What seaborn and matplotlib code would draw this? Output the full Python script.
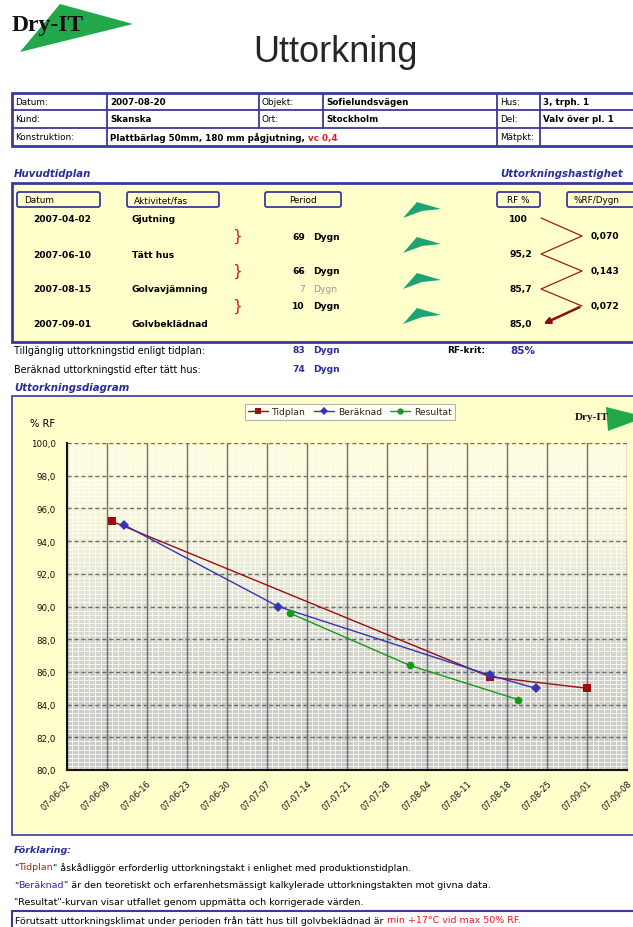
import pandas as pd
import matplotlib
matplotlib.use("Agg")
from matplotlib import pyplot as plt
import matplotlib.dates as mdates
from matplotlib.patches import Rectangle, Polygon, FancyBboxPatch
from matplotlib.lines import Line2D
from matplotlib.ticker import MultipleLocator, FuncFormatter
import numpy as np
import seaborn as sns

sns.set_style("white")
plt.rcParams["font.family"] = ["DejaVu Sans"]

# ---- chart data ----
tidplan_dates = ["2007-06-10", "2007-08-15", "2007-09-01"]
tidplan_rf = [95.2, 85.7, 85.0]
beraknad_dates = ["2007-06-12", "2007-07-09", "2007-08-15", "2007-08-23"]
beraknad_rf = [95.0, 90.0, 85.8, 85.0]
resultat_dates = ["2007-07-11", "2007-08-01", "2007-08-20"]
resultat_rf = [89.6, 86.4, 84.3]
x_ticks = ["2007-06-02", "2007-06-09", "2007-06-16", "2007-06-23", "2007-06-30",
           "2007-07-07", "2007-07-14", "2007-07-21", "2007-07-28", "2007-08-04",
           "2007-08-11", "2007-08-18", "2007-08-25", "2007-09-01", "2007-09-08"]
y_ticks = [80, 82, 84, 86, 88, 90, 92, 94, 96, 98, 100]

# ---- header table ----
info_rows = [
    ["Datum:", "2007-08-20", "Objekt:", "Sofielundsvägen", "Hus:", "3, trph. 1"],
    ["Kund:", "Skanska", "Ort:", "Stockholm", "Del:", "Valv över pl. 1"],
]
konstr_label = "Konstruktion:"
konstr_value = "Plattbärlag 50mm, 180 mm pågjutning,"
konstr_vc = " vc 0,4"

# ---- schedule ----
plan_dates = ["2007-04-02", "2007-06-10", "2007-08-15", "2007-09-01"]
plan_activity = ["Gjutning", "Tätt hus", "Golvavjämning", "Golvbeklädnad"]
plan_rf = ["100", "95,2", "85,7", "85,0"]
period_days = ["69", "66", "10"]
rate_values = ["0,070", "0,143", "0,072"]

W, H = 633, 928
BLUE = "#3a3a9e"
TXTBLUE = "#2b2b9c"
YEL = "#ffffcc"
DARKRED = "#8e0c0c"
REDTXT = "#f01818"
ARROWGREEN = "#1ea376"

fig = plt.figure(figsize=(W / 100, H / 100), dpi=100)
bg = fig.add_axes([0, 0, 1, 1])
bg.set_xlim(0, W)
bg.set_ylim(H, 0)
bg.axis("off")
renderer = fig.canvas.get_renderer()


def txt(x, y, s, size=6, color="black", weight="normal", ha="left", style="normal", **kw):
    return bg.text(x, y, s, fontsize=size, color=color, fontweight=weight, ha=ha,
                   va="center", fontstyle=style, **kw)


def parts(x, y, items, size=6, weight="normal"):
    for s, c in items:
        t = txt(x, y, s, size=size, color=c, weight=weight)
        x = t.get_window_extent(renderer).x1


def dry_logo(tri, tx, ty, size):
    bg.add_patch(Polygon(tri, closed=True, fc="#22a84a", ec="none"))
    bg.text(tx, ty, "Dry-IT", fontsize=size, fontweight="bold", family="Liberation Serif",
            color="#111111", va="center", ha="left")


# logo + title
dry_logo([(60, 5), (133, 25), (20, 53)], 12, 26, 17)
bg.text(335, 52, "Uttorkning", fontsize=26, family="Liberation Sans", ha="center", va="center")

# info table
cols = [12, 107, 259, 323, 497, 540, 660]
rows = [94, 111, 129, 147]
bg.add_patch(Rectangle((12, 94), 660, 53, fc="white", ec=BLUE, lw=2))
for r in rows[1:3]:
    bg.plot([12, 660], [r, r], color=BLUE, lw=1.3)
for c in [107, 497, 540]:
    bg.plot([c, c], [94, 147], color=BLUE, lw=1.3)
for c in [259, 323]:
    bg.plot([c, c], [94, 129], color=BLUE, lw=1.3)
for i, row in enumerate(info_rows):
    yc = (rows[i] + rows[i + 1]) / 2
    for j, s in enumerate(row):
        bold = j % 2 == 1
        txt(cols[j] + 3, yc, s, size=6.3 if bold else 6.4, weight="bold" if bold else "normal")
yc = (rows[2] + rows[3]) / 2
txt(15, yc, konstr_label, size=6.4)
parts(110, yc, [(konstr_value, "black"), (konstr_vc, REDTXT)], size=6.3, weight="bold")
txt(500, yc, "Mätpkt:", size=6.4)

# schedule section
txt(14, 174, "Huvudtidplan", size=7.3, color=TXTBLUE, weight="bold", style="italic")
txt(500, 174, "Uttorkningshastighet", size=7.3, color=TXTBLUE, weight="bold", style="italic")
bg.add_patch(Rectangle((12, 184), 660, 159, fc=YEL, ec=BLUE, lw=2))
for x0, x1, lab, ha in [(17, 100, "Datum", "left"), (127, 219, "Aktivitet/fas", "left"),
                        (265, 341, "Period", "center"), (497, 540, "RF %", "center"),
                        (567, 660, "%RF/Dygn", "left")]:
    bg.add_patch(FancyBboxPatch((x0, 193), x1 - x0, 15, boxstyle="round,pad=0,rounding_size=2",
                                fc=YEL, ec=BLUE, lw=1.3))
    tx = (x0 + x1) / 2 if ha == "center" else x0 + 7
    txt(tx, 200.5, lab, size=6.4, ha=ha)

row_y = [219, 255, 290, 325]
mid_y = [237, 272, 307]
for y, d, a, rf in zip(row_y, plan_dates, plan_activity, plan_rf):
    txt(33, y, d, weight="bold", size=6.6)
    txt(132, y, a, weight="bold", size=6.6)
    txt(509, y, rf, weight="bold", size=6.6)
for y, p, r in zip(mid_y, period_days, rate_values):
    txt(237, y - 1, "}", size=11, color="#d42020", ha="center")
    txt(305, y, p, weight="bold", size=6.6, ha="right")
    txt(313, y, "Dygn", weight="bold", size=6.6)
    txt(591, y, r, weight="bold", size=6.6)
txt(305, 290, "7", size=6.6, ha="right", color="#999999")
txt(313, 290, "Dygn", size=6.6, color="#999999")

for ya in [211, 246, 282, 317]:
    bg.add_patch(Polygon([(403, ya + 8), (417, ya - 8), (441, ya - 1), (422, ya + 1)],
                         closed=True, fc=ARROWGREEN, ec="none"))

zig_x = [541, 582, 541, 582, 541, 582]
zig_y = [219, 237, 255, 272, 290, 307]
bg.plot(zig_x, zig_y, color="#a11a1a", lw=0.9)
bg.annotate("", xy=(541, 326), xytext=(582, 307),
            arrowprops=dict(arrowstyle="-|>", color=DARKRED, lw=1.8, mutation_scale=9))

# summary lines
txt(14, 351, "Tillgänglig uttorkningstid enligt tidplan:", size=6.9)
txt(305, 351, "83", size=6.6, weight="bold", color=TXTBLUE, ha="right")
txt(313, 351, "Dygn", size=6.6, weight="bold", color=TXTBLUE)
txt(447, 351, "RF-krit:", size=6.4, weight="bold")
txt(510, 351, "85%", size=7.5, weight="bold", color=TXTBLUE)
txt(14, 370, "Beräknad uttorkningstid efter tätt hus:", size=6.9)
txt(305, 370, "74", size=6.6, weight="bold", color=TXTBLUE, ha="right")
txt(313, 370, "Dygn", size=6.6, weight="bold", color=TXTBLUE)

# chart frame
txt(14, 388, "Uttorkningsdiagram", size=7.3, color=TXTBLUE, weight="bold", style="italic")
bg.add_patch(Rectangle((12, 397), 660, 439, fc=YEL, ec=BLUE, lw=1.2))
txt(30, 424, "% RF", size=7.2)
dry_logo([(606, 408), (646, 418), (608, 432)], 575, 418, 8)

# explanation
txt(14, 851, "Förklaring:", size=6.8, color=TXTBLUE, weight="bold", style="italic")
parts(14, 868, [('"', "black"), ("Tidplan", "#c01c1c"),
                ('" åskådliggör erforderlig uttorkningstakt i enlighet med produktionstidplan.', "black")], size=6.8)
parts(14, 886, [('"', "black"), ("Beräknad", "#2a2aaa"),
                ('" är den teoretiskt och erfarenhetsmässigt kalkylerade uttorkningstakten mot givna data.', "black")], size=6.8)
txt(14, 903, '"Resultat"-kurvan visar utfallet genom uppmätta och korrigerade värden.', size=6.8)
bg.add_patch(Rectangle((12, 912), 660, 30, fc="white", ec=BLUE, lw=1.5))
parts(15, 921, [("Förutsatt uttorkningsklimat under perioden från tätt hus till golvbeklädnad är", "black"),
                (" min +17°C vid max 50% RF.", REDTXT)], size=6.8)

# ---- drying chart ----
df = pd.concat([
    pd.DataFrame({"datum": pd.to_datetime(tidplan_dates), "rf": tidplan_rf, "serie": "Tidplan"}),
    pd.DataFrame({"datum": pd.to_datetime(beraknad_dates), "rf": beraknad_rf, "serie": "Beräknad"}),
    pd.DataFrame({"datum": pd.to_datetime(resultat_dates), "rf": resultat_rf, "serie": "Resultat"}),
], ignore_index=True)
palette = {"Tidplan": "#9a0e0e", "Beräknad": "#3434b4", "Resultat": "#169a16"}
markers = {"Tidplan": "s", "Beräknad": "D", "Resultat": "o"}

ax = fig.add_axes([66.6 / W, 1 - 771 / H, (627 - 66.6) / W, (771 - 444) / H])
ax.set_zorder(2)
grad = np.array([[1.00, 0.99, 0.86], [0.95, 0.95, 0.86], [0.87, 0.87, 0.84],
                 [0.81, 0.81, 0.81], [0.79, 0.79, 0.79]])
ax.imshow(grad[:, None, :], extent=[0, 1, 0, 1], transform=ax.transAxes, aspect="auto",
          interpolation="bicubic", zorder=0)

tick_dates = pd.to_datetime(x_ticks)
for d in tick_dates:
    ax.axvline(d, color="#6e6e6e", lw=1.0, zorder=1)
for v in y_ticks:
    ax.axhline(v, color="#6e6e6e", lw=1.0, ls=(0, (3, 2)), zorder=1)

sns.lineplot(data=df, x="datum", y="rf", hue="serie", style="serie", palette=palette,
             markers=markers, dashes=False, ax=ax, linewidth=1.0, markersize=5.5,
             markeredgewidth=0, legend=False, zorder=3)

ax.set_xlim(tick_dates[0], tick_dates[-1])
ax.set_ylim(80, 100)
ax.set_xticks(tick_dates)
ax.set_yticks(y_ticks)
ax.xaxis.set_major_formatter(mdates.DateFormatter("%y-%m-%d"))
ax.xaxis.set_minor_locator(mdates.DayLocator())
ax.yaxis.set_minor_locator(MultipleLocator(0.25))
ax.yaxis.set_major_formatter(FuncFormatter(lambda v, p: f"{v:.1f}".replace(".", ",")))
ax.set_axisbelow(True)
ax.grid(which="minor", color="#fffff2", lw=0.6)
ax.grid(which="major", visible=False)
ax.set_xlabel("")
ax.set_ylabel("")
for s in ["top", "right"]:
    ax.spines[s].set_visible(False)
for s in ["left", "bottom"]:
    ax.spines[s].set_color("#111111")
    ax.spines[s].set_linewidth(1.5)
    ax.spines[s].set_zorder(4)
ax.tick_params(which="major", length=4, width=1, direction="out", colors="#111111", labelsize=6.3)
ax.tick_params(which="minor", length=0)
ax.tick_params(axis="x", pad=2)
for lab in ax.get_xticklabels():
    lab.set_rotation(45)
    lab.set_ha("right")
    lab.set_rotation_mode("anchor")
    lab.set_fontsize(6)

handles = [Line2D([], [], color=palette[k], marker=markers[k], markersize=4.5, lw=1.0,
                  markeredgewidth=0) for k in palette]
leg = ax.legend(handles, list(palette), ncol=3, loc="center", bbox_to_anchor=(350 / W, 1 - 413 / H),
                bbox_transform=fig.transFigure, fontsize=6.6, frameon=True, fancybox=False,
                handlelength=2.2, columnspacing=0.9, handletextpad=0.4, borderpad=0.35)
leg.get_frame().set_edgecolor("#a0a0a0")
leg.get_frame().set_linewidth(0.8)

fig.savefig("out.png", dpi=100)
